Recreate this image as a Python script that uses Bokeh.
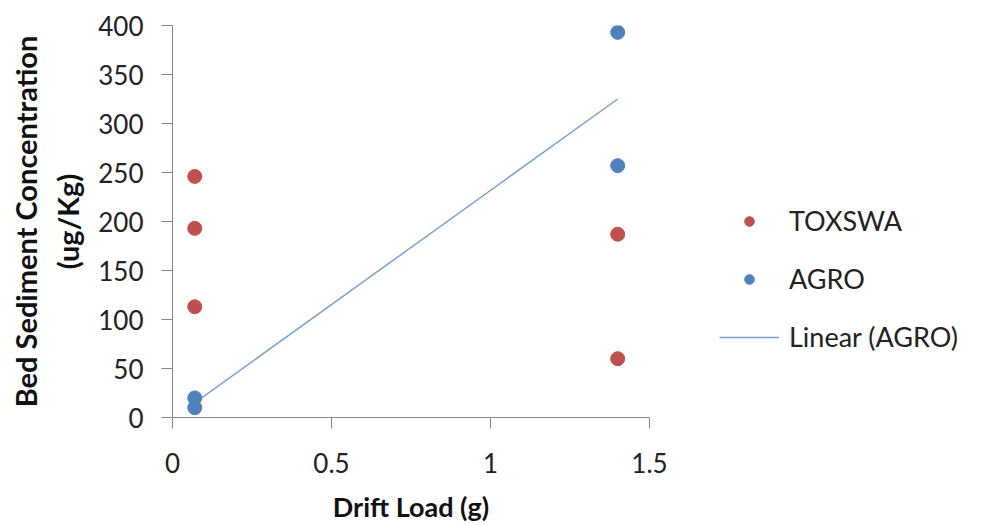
import numpy as np
from bokeh.plotting import figure
from bokeh.models import Legend, LegendItem, Range1d, FixedTicker
from bokeh.embed import file_html
from bokeh.resources import INLINE

# Data
toxswa_x = [0.07, 0.07, 0.07, 1.4, 1.4]
toxswa_y = [246, 193, 113, 187, 60]
agro_x = [0.07, 0.07, 1.4, 1.4]
agro_y = [20, 10, 393, 257]
x_ticks = [0, 0.5, 1, 1.5]
x_tick_labels = ["0", "0.5", "1", "1.5"]
y_ticks = [0, 50, 100, 150, 200, 250, 300, 350, 400]
y_tick_labels = ["0", "50", "100", "150", "200", "250", "300", "350", "400"]

RED = "#C0504D"
BLUE = "#4F81BD"
FONT = "Lato"

p = figure(frame_width=477, frame_height=392, output_backend="svg", toolbar_location=None,
           x_range=Range1d(0, 1.5), y_range=Range1d(0, 400),
           min_border_left=172, min_border_top=25, min_border_bottom=90,
           min_border_right=0)
p.outline_line_color = None
p.grid.visible = False
p.background_fill_color = "white"
p.border_fill_color = "white"

# Linear trend of AGRO
slope, intercept = np.polyfit(agro_x, agro_y, 1)
tx = [min(agro_x), max(agro_x)]
ty = [slope * v + intercept for v in tx]

r_tox = p.scatter(toxswa_x, toxswa_y, size=14, color=RED, line_color=RED)
r_agro = p.scatter(agro_x, agro_y, size=14, color=BLUE, line_color=BLUE)
r_lin = p.line(tx, ty, line_color=BLUE, line_width=1.5, line_alpha=0.75)

for ax in (p.xaxis[0], p.yaxis[0]):
    ax.axis_line_color = "#868686"
    ax.major_tick_line_color = "#868686"
    ax.major_tick_in = 0
    ax.major_tick_out = 11
    ax.minor_tick_line_color = None
    ax.major_label_text_font = FONT
    ax.major_label_text_font_size = "26px"
    ax.major_label_text_color = "#222222"
    ax.axis_label_text_font = FONT
    ax.axis_label_text_font_style = "bold"
    ax.axis_label_text_color = "#111111"

p.xaxis.axis_label_text_font_size = "27px"
p.yaxis.axis_label_text_font_size = "29px"
p.xaxis.ticker = FixedTicker(ticks=x_ticks)
p.xaxis.major_label_overrides = dict(zip(x_ticks, x_tick_labels))
p.yaxis.ticker = FixedTicker(ticks=y_ticks)
p.yaxis.major_label_overrides = dict(zip(y_ticks, y_tick_labels))
p.xaxis.axis_label = "Drift Load (g)"
p.yaxis.axis_label = "Bed Sediment Concentration\n(ug/Kg)"
p.xaxis.major_label_standoff = 24
p.yaxis.major_label_standoff = 18
p.xaxis.axis_label_standoff = 14
p.yaxis.axis_label_standoff = 10

legend = Legend(items=[
    LegendItem(label="TOXSWA", renderers=[r_tox]),
    LegendItem(label="AGRO", renderers=[r_agro]),
    LegendItem(label="Linear (AGRO)", renderers=[r_lin]),
], location=(70, 64))
legend.border_line_color = None
legend.background_fill_alpha = 0
legend.label_text_font = FONT
legend.label_text_font_size = "27px"
legend.label_text_color = "#222222"
legend.glyph_width = 60
legend.glyph_height = 24
legend.label_height = 24
legend.spacing = 25
legend.label_standoff = 10
legend.padding = 0
legend.margin = 0
p.add_layout(legend, "right")

open("out.html", "w").write(file_html(p, INLINE))
